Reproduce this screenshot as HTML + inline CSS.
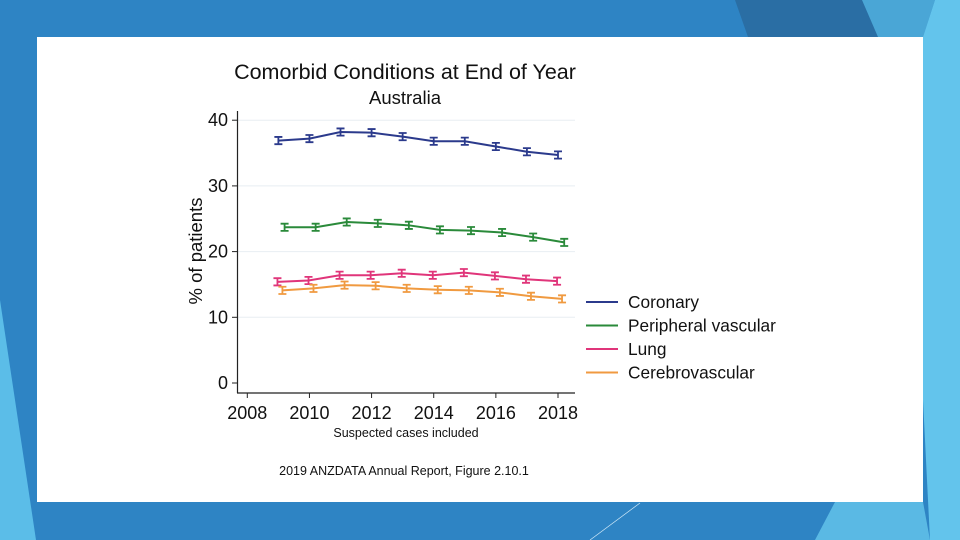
<!DOCTYPE html>
<html><head><meta charset="utf-8"><style>
html,body{margin:0;padding:0;width:960px;height:540px;overflow:hidden;background:#2e84c4}
svg{display:block;font-family:"Liberation Sans",Arial,sans-serif}
</style></head><body>
<svg width="960" height="540" viewBox="0 0 960 540">
<g>
<rect width="960" height="540" fill="#2e84c4"/>
<polygon points="0,300 0,540 36,540" fill="#5bbde8"/>
<polygon points="735,0 865,0 880,37 748,37" fill="#2a6ea4"/>
<polygon points="862,0 935,0 923,37 878,37" fill="#4aa6d6"/>
<polygon points="935,0 960,0 960,540 930,540 923,400 923,37" fill="#63c4ec"/>
<polygon points="835,502 923,502 930,540 815,540" fill="#5ab9e4"/>
<line x1="590" y1="540" x2="640" y2="503" stroke="#cfe8f7" stroke-width="0.7"/>
</g>
<rect x="37" y="37" width="886" height="465" fill="#fff"/>
<text x="405" y="79" font-size="21.5" text-anchor="middle" fill="#111">Comorbid Conditions at End of Year</text>
<text x="405" y="104" font-size="18.5" text-anchor="middle" fill="#111">Australia</text>
<g id="grid"></g>
<g id="axes"></g>
<g id="series"></g>
<text transform="translate(202,251) rotate(-90)" font-size="18.5" text-anchor="middle" fill="#111">% of patients</text>
<text x="406" y="437" font-size="12.5" text-anchor="middle" fill="#111">Suspected cases included</text>
<text x="404" y="475" font-size="12.5" text-anchor="middle" fill="#111">2019 ANZDATA Annual Report, Figure 2.10.1</text>
<g id="legend"></g>
</svg>
<script>
const years=[2009,2010,2011,2012,2013,2014,2015,2016,2017,2018];
const coronary=[36.9,37.2,38.2,38.1,37.5,36.8,36.8,36.0,35.2,34.7];
const peripheral=[23.7,23.7,24.5,24.3,24.0,23.3,23.2,22.9,22.2,21.4];
const lung=[15.4,15.6,16.4,16.4,16.7,16.4,16.8,16.3,15.8,15.5];
const cerebro=[14.1,14.4,14.9,14.8,14.4,14.2,14.1,13.8,13.2,12.8];
const seriesNames=["Coronary","Peripheral vascular","Lung","Cerebrovascular"];
const xTicks=[2008,2010,2012,2014,2016,2018];
const yTicks=[0,10,20,30,40];
const errHalf=0.55;
const NS="http://www.w3.org/2000/svg";
const X=v=>247.3+(v-2008)*31.07;
const Y=v=>383-v*6.57;
function mk(tag,attrs,parent){const e=document.createElementNS(NS,tag);for(const k in attrs)e.setAttribute(k,attrs[k]);parent.appendChild(e);return e;}
const grid=document.getElementById('grid'),axes=document.getElementById('axes'),sg=document.getElementById('series'),lg=document.getElementById('legend');
yTicks.forEach(t=>{
 if(t>0){const g=mk('line',{x1:238,x2:575,y1:Y(t),y2:Y(t),stroke:'#e8eef2','stroke-width':1},grid);
 
 }
 const tk=mk('line',{x1:232,x2:238,y1:Y(t),y2:Y(t),stroke:'#222','stroke-width':1},axes);
 
 
 const tx=mk('text',{x:228,y:Y(t)+6,'font-size':18,'text-anchor':'end',fill:'#111'},axes);
 tx.textContent=t;
 
 
});
const ya=mk('line',{x1:237.5,x2:237.5,y1:111,y2:393,stroke:'#222','stroke-width':1.2},axes);


const xa=mk('line',{x1:237,x2:575,y1:393,y2:393,stroke:'#222','stroke-width':1.2},axes);


xTicks.forEach(t=>{
 const tk=mk('line',{x1:X(t),x2:X(t),y1:393,y2:398,stroke:'#222','stroke-width':1},axes);
 
 
 const tx=mk('text',{x:X(t),y:419,'font-size':18,'text-anchor':'middle',fill:'#111'},axes);
 tx.textContent=t;
 
 
});
const data=[coronary,peripheral,lung,cerebro];
const colors=['#2b3a8c','#2a8a3a','#e0357a','#f09a40'];
const offs=[0,0.2,-0.03,0.13];
const keys=['coronary','peripheral-vascular','lung','cerebrovascular'];
data.forEach((vals,i)=>{
 const g=mk('g',{},sg);
 
 
 const pts=vals.map((v,j)=>X(years[j]+offs[i])+','+Y(v)).join(' ');
 const pl=mk('polyline',{points:pts,fill:'none',stroke:colors[i],'stroke-width':2},g);
 
 
 vals.forEach((v,j)=>{
  const x=X(years[j]+offs[i]),y1=Y(v+errHalf),y2=Y(v-errHalf);
  const p=mk('path',{d:`M${x},${y1}V${y2}M${x-4},${y1}H${x+4}M${x-4},${y2}H${x+4}`,stroke:colors[i],'stroke-width':1.8,fill:'none'},g);
  
  
 });
});
seriesNames.forEach((n,i)=>{
 const y=302+i*23.5;
 const g=mk('g',{},lg);
 
 
 mk('line',{x1:586,x2:618,y1:y,y2:y,stroke:colors[i],'stroke-width':2},g);
 const t=mk('text',{x:628,y:y+6,'font-size':17.3,fill:'#111'},g);
 t.textContent=n;
});
</script>
</body></html>
